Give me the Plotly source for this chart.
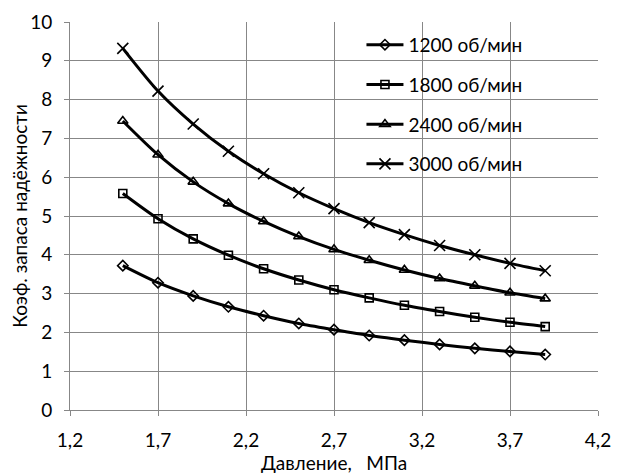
import plotly.graph_objects as go

pressure = [1.5, 1.7, 1.9, 2.1, 2.3, 2.5, 2.7, 2.9, 3.1, 3.3, 3.5, 3.7, 3.9]
k_1200 = [3.72, 3.28, 2.94, 2.66, 2.43, 2.23, 2.07, 1.92, 1.80, 1.69, 1.59, 1.51, 1.43]
k_1800 = [5.58, 4.93, 4.41, 3.99, 3.64, 3.35, 3.10, 2.89, 2.70, 2.54, 2.39, 2.26, 2.15]
k_2400 = [7.45, 6.58, 5.88, 5.32, 4.86, 4.47, 4.14, 3.86, 3.61, 3.39, 3.20, 3.02, 2.87]
k_3000 = [9.32, 8.22, 7.37, 6.67, 6.09, 5.60, 5.19, 4.83, 4.52, 4.24, 4.00, 3.78, 3.59]
series_names = ["1200 об/мин", "1800 об/мин", "2400 об/мин", "3000 об/мин"]
x_tick_vals = [1.2, 1.7, 2.2, 2.7, 3.2, 3.7, 4.2]

series = [k_1200, k_1800, k_2400, k_3000]
symbols = ["diamond-open", "square-open", "triangle-up-open", "x-thin-open"]
sizes = [8, 8, 9, 11]

FONT = "Lato, 'Open Sans', sans-serif"

fig = go.Figure()
for i, (name, ys) in enumerate(zip(series_names, series)):
    fig.add_trace(go.Scatter(
        x=pressure, y=ys, name=name, mode="lines+markers",
        legendgroup=f"g{i}",
        line=dict(color="black", width=3, shape="spline", smoothing=0.8),
        marker=dict(symbol=symbols[i], size=sizes[i], color="black",
                    line=dict(color="black", width=1.6)),
    ))

# page body has an 8px margin: compensate so the plot area sits where the reference has it
fig.update_layout(
    width=636, height=467,
    margin=dict(l=62, r=46, t=14, b=65, autoexpand=False),
    paper_bgcolor="white", plot_bgcolor="white",
    font=dict(family=FONT, size=19, color="#000000"),
    showlegend=True,
    legend=dict(x=0.552, y=0.99, xanchor="left", yanchor="top",
                bgcolor="rgba(0,0,0,0)", tracegroupgap=12,
                font=dict(family=FONT, size=19, color="#000000"),
                itemwidth=37),
    xaxis=dict(range=[1.2, 4.2], tickvals=x_tick_vals,
               ticktext=[f"{v:.1f}".replace(".", ",") for v in x_tick_vals],
               automargin=False,
               showgrid=True, gridcolor="#878787", gridwidth=1,
               showline=True, linecolor="#878787", linewidth=1,
               ticks="outside", ticklen=5, tickcolor="#878787",
               ticklabelstandoff=8,
               zeroline=False,
               title=dict(text="Давление,\u00a0\u00a0\u00a0МПа", standoff=0,
                          font=dict(family=FONT, size=19))),
    yaxis=dict(range=[0, 10], dtick=1, tick0=0,
               automargin=False,
               showgrid=True, gridcolor="#878787", gridwidth=1,
               showline=True, linecolor="#878787", linewidth=1,
               ticks="outside", ticklen=5, tickcolor="#878787",
               ticklabelstandoff=8,
               zeroline=False,
               title=dict(text="Коэф. запаса надёжности", standoff=6,
                          font=dict(family=FONT, size=19))),
)

fig.write_html("out.html")
